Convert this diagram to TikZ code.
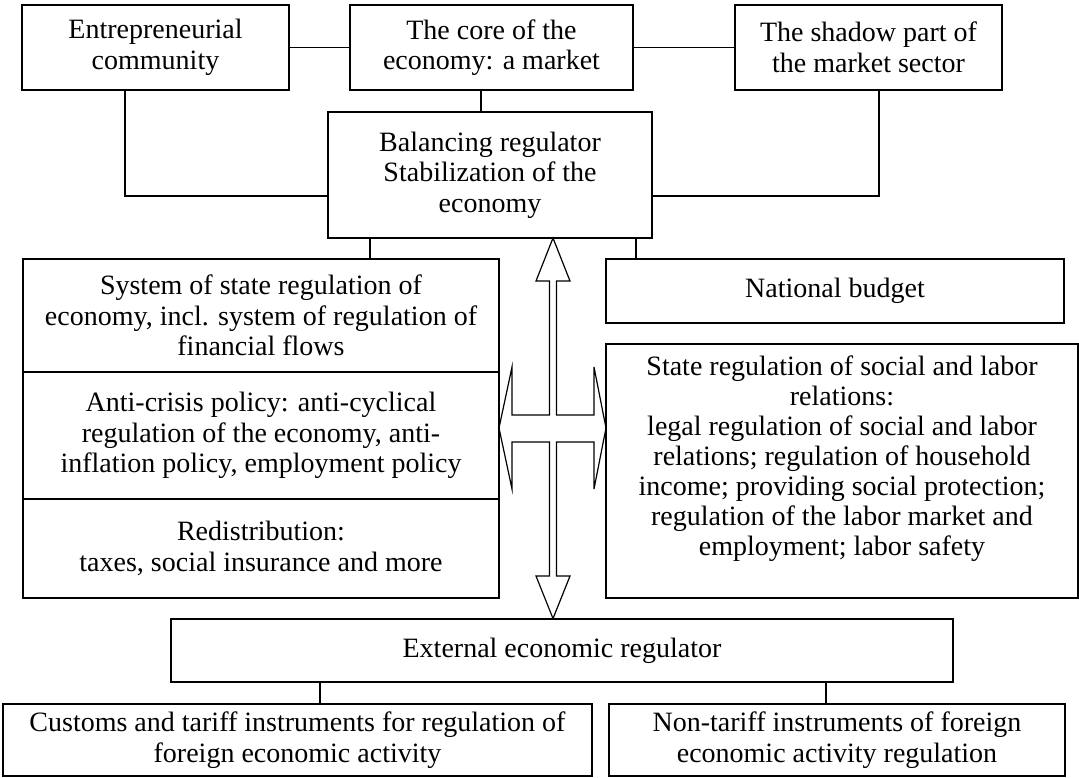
\documentclass[tikz,border=0pt]{standalone}
\usepackage{fontspec}
\setmainfont{Liberation Serif}
\usetikzlibrary{calc}

\tikzset{
  blok/.style={draw, line width=0.9pt, align=center, inner sep=2pt,
    font=\fontsize{21}{23}\selectfont},
  tekst/.style={align=center, inner sep=0pt, font=\fontsize{21}{22.5}\selectfont},
  lijn/.style={line width=0.9pt},
}

\begin{document}
\begin{tikzpicture}[x=0.75pt,y=-0.75pt]
\useasboundingbox (0,0) rectangle (1079,778);

% bovenste rij
\node[blok, minimum width=200.25pt, minimum height=63.75pt] (entre) at (155.5,47.5) {Entrepreneurial\\community};
\node[blok, minimum width=212.25pt, minimum height=63.75pt] (core) at (491.5,47.5) {The core of the\\economy: a market};
\node[blok, minimum width=200.25pt, minimum height=63.75pt] (shadow) at (868.5,47.5) {The shadow part of\\the market sector};

% regulator
\node[blok, minimum width=243pt, minimum height=94.5pt] (balance) at (490,175) {Balancing regulator\\Stabilization of the\\economy};

% linker kolom
\node[blok, minimum width=357pt, minimum height=84.75pt] (system) at (261,315.5) {System of state regulation of\\economy, incl. system of regulation of\\financial flows};
\node[blok, minimum width=357pt, minimum height=95.25pt] (crisis) at (261,435.5) {Anti-crisis policy: anti-cyclical\\regulation of the economy, anti-\\inflation policy, employment policy};
\node[blok, minimum width=357pt, minimum height=74.25pt] (redistr) at (261,548.5) {Redistribution:\\taxes, social insurance and more};

% rechter kolom
\node[blok, minimum width=343.5pt, minimum height=48pt] (budget) at (835,291) {National budget};
\node[blok, minimum width=354pt, minimum height=190.5pt] (social) at (842,471) {};
\node[tekst, anchor=north] at ($(social.north)+(0,12)$) {State regulation of social and labor\\relations:\\legal regulation of social and labor\\relations; regulation of household\\income; providing social protection;\\regulation of the labor market and\\employment; labor safety};

% onderkant
\node[blok, minimum width=586.5pt, minimum height=47.25pt] (external) at (562,650.5) {External economic regulator};
\node[blok, minimum width=441.75pt, minimum height=54pt] (customs) at (297.5,740) {Customs and tariff instruments for regulation of\\foreign economic activity};
\node[blok, minimum width=342pt, minimum height=54pt] (nontariff) at (837,740) {Non-tariff instruments of foreign\\economic activity regulation};

% verbindingen
\draw[lijn] (entre.east) -- (core.west);
\draw[lijn] (core.east) -- (shadow.west);
\draw[lijn] ($(core.south)+(-10.5,0)$) -- ($(balance.north)+(-9,0)$);
\draw[lijn] ($(entre.south)+(-30.5,0)$) |- ($(balance.west)+(0,21)$);
\draw[lijn] ($(shadow.south)+(10.5,0)$) |- ($(balance.east)+(0,21)$);
\draw[lijn] ($(balance.south)+(-120,0)$) coordinate (b1) -- (b1 |- system.north);
\draw[lijn] ($(balance.south)+(146,0)$) coordinate (b2) -- (b2 |- budget.north);
\draw[lijn] ($(external.south)+(-242,0)$) coordinate (e1) -- (e1 |- customs.north);
\draw[lijn] ($(external.south)+(264,0)$) coordinate (e2) -- (e2 |- nontariff.north);

% kruispijl
\draw[lijn, line join=miter] (553,238) -- (570,281) -- (556.5,281) -- (556.5,415) -- (594,415) -- (594,367)
  -- (606,428) -- (594,489) -- (594,442) -- (556.5,442) -- (556.5,576) -- (570,576) -- (553,618.5)
  -- (536,576) -- (549.5,576) -- (549.5,442) -- (512,442) -- (512,489) -- (499,428) -- (512,367)
  -- (512,415) -- (549.5,415) -- (549.5,281) -- (536,281) -- cycle;

\end{tikzpicture}
\end{document}
